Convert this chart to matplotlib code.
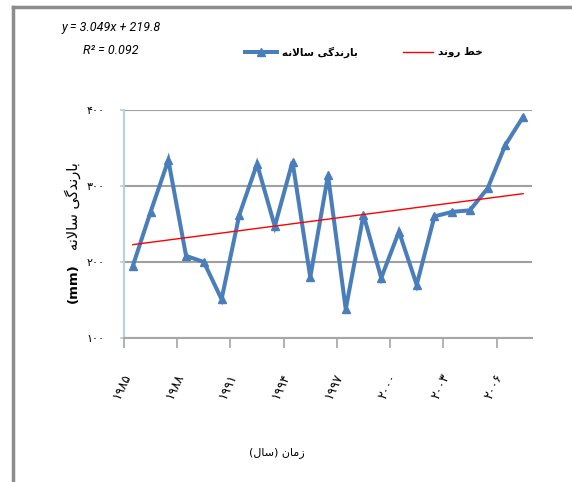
import numpy as np
import matplotlib
matplotlib.use("Agg")
import matplotlib.pyplot as plt
from matplotlib.lines import Line2D

# ---------------- data ----------------
years = list(range(1985, 2008))
rainfall = [195, 266, 334, 208, 200, 151, 262, 329, 247, 332, 180, 314,
            138, 262, 179, 240, 170, 260, 266, 268, 297, 354, 391]
label_years = [1985, 1988, 1991, 1994, 1997, 2000, 2003, 2006]
y_ticks = [100, 200, 300, 400]
trend_slope = 3.049
trend_intercept = 219.8
eq_text = "y = 3.049x + 219.8"
r2_text = "R² = 0.092"
series_label = "بارندگی سالانه"
trend_label = "خط روند"
ylabel_main = "بارندگی سالانه"
ylabel_unit = "(mm)"
xlabel_text = "زمان (سال)"

# ------------- minimal Arabic shaping (for display only) -------------
FORMS = {  # isolated, final, initial, medial
    'ب': ('\ufe8f', '\ufe90', '\ufe91', '\ufe92'),
    'ا': ('\ufe8d', '\ufe8e', None, None),
    'ر': ('\ufead', '\ufeae', None, None),
    'ز': ('\ufeaf', '\ufeb0', None, None),
    'د': ('\ufea9', '\ufeaa', None, None),
    'و': ('\ufeed', '\ufeee', None, None),
    'ن': ('\ufee5', '\ufee6', '\ufee7', '\ufee8'),
    'گ': ('\ufb92', '\ufb93', '\ufb94', '\ufb95'),
    'ی': ('\ufbfc', '\ufbfd', '\ufbfe', '\ufbff'),
    'س': ('\ufeb1', '\ufeb2', '\ufeb3', '\ufeb4'),
    'ل': ('\ufedd', '\ufede', '\ufedf', '\ufee0'),
    'ه': ('\ufee9', '\ufeea', '\ufeeb', '\ufeec'),
    'خ': ('\ufea5', '\ufea6', '\ufea7', '\ufea8'),
    'ط': ('\ufec1', '\ufec2', '\ufec3', '\ufec4'),
    'م': ('\ufee1', '\ufee2', '\ufee3', '\ufee4'),
}


def dual(c):
    return c in FORMS and FORMS[c][2] is not None


def shape(s):
    out = []
    i = 0
    n = len(s)
    while i < n:
        c = s[i]
        if c not in FORMS:
            out.append(c)
            i += 1
            continue
        prev_join = i > 0 and dual(s[i - 1])
        if c == 'ل' and i + 1 < n and s[i + 1] == 'ا':
            out.append('\ufefc' if prev_join else '\ufefb')
            i += 2
            continue
        next_join = dual(c) and i + 1 < n and s[i + 1] in FORMS
        iso, fin, ini, med = FORMS[c]
        if prev_join and next_join:
            out.append(med)
        elif prev_join:
            out.append(fin)
        elif next_join:
            out.append(ini)
        else:
            out.append(iso)
        i += 1
    r = ''.join(reversed(out)).translate(str.maketrans('()', ')('))
    res, buf = [], []
    for ch in r:
        if ch.isascii() and ch.isalnum():
            buf.append(ch)
        else:
            res.append(''.join(reversed(buf)))
            buf = []
            res.append(ch)
    res.append(''.join(reversed(buf)))
    return ''.join(res)


def fa_digits(v):
    return str(v).translate(str.maketrans('0123456789', '۰۱۲۳۴۵۶۷۸۹'))


plt.rcParams['font.family'] = ['DejaVu Sans']

W, H = 572, 482
fig = plt.figure(figsize=(W / 100, H / 100), dpi=100)
fig.patch.set_facecolor('white')

left, right, top, bottom = 124, 532, 110, 338
ax = fig.add_axes([left / W, 1 - bottom / H, (right - left) / W, (bottom - top) / H])

x = np.arange(len(years))
blue = '#4A7EBB'
red = '#FF0000'
ax.plot(x, rainfall, color=blue, lw=2.9, marker='^', ms=6, zorder=3,
        solid_joinstyle='miter')
xt = np.arange(1, len(years) + 1)
ax.plot(x, trend_slope * xt + trend_intercept, color=red, lw=1.0, zorder=4)

ax.set_xlim(-0.5, len(years) - 0.5)
ax.set_ylim(min(y_ticks), max(y_ticks))

for s in ['top', 'right']:
    ax.spines[s].set_visible(False)
ax.spines['left'].set_color('#B9CDE5')
ax.spines['left'].set_linewidth(1.5)
ax.spines['bottom'].set_color('#A6A6A6')
ax.spines['bottom'].set_linewidth(1.5)

ax.set_yticks(y_ticks)
ax.set_yticklabels([fa_digits(v) for v in y_ticks], fontsize=8)
ax.tick_params(axis='y', direction='out', length=3, color='#B9CDE5', width=1.2, pad=11)
ax.yaxis.grid(True, color='#A0A0A0', lw=1.5)
ax.set_axisbelow(True)

idx = [years.index(y) for y in label_years]
ax.set_xticks([i - 0.5 for i in idx])
ax.set_xticklabels([''] * len(idx))
ax.tick_params(axis='x', which='major', direction='out', length=7, color='#A6A6A6', width=1.2)
ax.set_xticks(idx, minor=True)
ax.set_xticklabels([fa_digits(y) for y in label_years], minor=True,
                   rotation=65, ha='right', va='top', fontsize=9)
ax.tick_params(axis='x', which='minor', length=0, pad=24)

# y-axis title (Arabic part + bold unit)
fig.text(73 / W, 1 - 206 / H, shape(ylabel_main), rotation=90, ha='center', va='center',
         fontsize=10.5)
fig.text(73 / W, 1 - 283 / H, ylabel_unit, rotation=90, ha='center', va='center',
         fontsize=9.5, fontweight='bold')
fig.text(277 / W, 1 - 453 / H, shape(xlabel_text), ha='center', va='center', fontsize=8)

eqfont = ['Liberation Sans Narrow', 'Roboto', 'DejaVu Sans']
fig.text(111 / W, 1 - 27 / H, eq_text, ha='center', va='center', fontsize=9,
         style='italic', family=eqfont)
fig.text(111 / W, 1 - 50 / H, r2_text, ha='center', va='center', fontsize=9,
         style='italic', family=eqfont)

# legend (drawn manually to match placement)
ly = 1 - 52 / H
fig.add_artist(Line2D([245 / W, 277 / W], [ly, ly], transform=fig.transFigure,
                      color=blue, lw=2.9))
fig.add_artist(Line2D([261 / W], [ly], transform=fig.transFigure, color=blue,
                      marker='^', ms=6, lw=0))
fig.text(282 / W, ly, shape(series_label), ha='left', va='center', fontsize=7.5,
         fontweight='bold')
fig.add_artist(Line2D([403 / W, 433 / W], [ly, ly], transform=fig.transFigure,
                      color=red, lw=1.0))
fig.text(438 / W, ly, shape(trend_label), ha='left', va='center', fontsize=7.5,
         fontweight='bold')

# outer frame (top and left edges)
frame_c = '#8C8C8C'
fig.add_artist(Line2D([13 / W, 1.0], [1 - 7 / H, 1 - 7 / H], transform=fig.transFigure,
                      color=frame_c, lw=2.5))
fig.add_artist(Line2D([13 / W, 13 / W], [1 - 7 / H, 0.0], transform=fig.transFigure,
                      color=frame_c, lw=2.5))

fig.savefig('out.png', dpi=100, facecolor='white')
